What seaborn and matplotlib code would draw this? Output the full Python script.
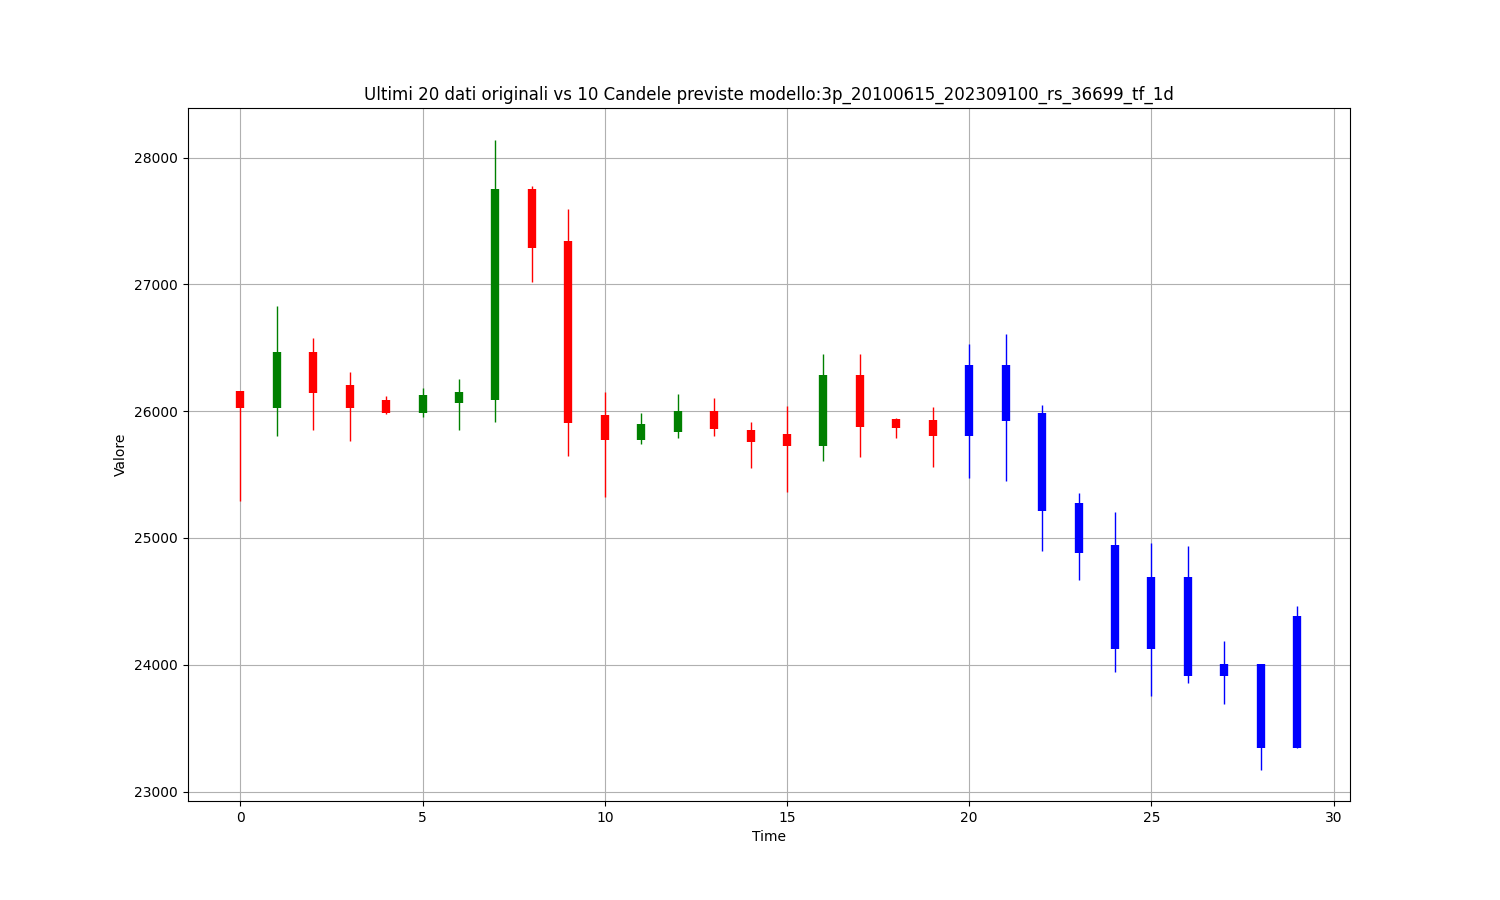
import numpy as np
import pandas as pd
import matplotlib
matplotlib.use("Agg")
import matplotlib.pyplot as plt
import seaborn as sns

# last 20 original candles
orig_open = [26159, 26026, 26463, 26206, 26087, 25987, 26066, 26090, 27754, 27342,
             25968, 25772, 25836, 26000, 25849, 25817, 25725, 26286, 25937, 25929]
orig_close = [26026, 26463, 26146, 26026, 25987, 26127, 26151, 27754, 27283, 25907,
              25772, 25897, 26000, 25860, 25757, 25725, 26286, 25876, 25868, 25804]
orig_high = [26159, 26828, 26580, 26312, 26122, 26185, 26257, 28142, 27775, 27596,
             26151, 25984, 26135, 26103, 25913, 26040, 26447, 26447, 25944, 26032]
orig_low = [25288, 25804, 25849, 25762, 25976, 25955, 25849, 25913, 27019, 25645,
            25320, 25741, 25788, 25804, 25550, 25360, 25606, 25637, 25788, 25558]

# 10 predicted candles
pred_open = [25806, 26362, 25984, 25276, 24945, 24121, 24695, 23908, 24008, 23341]
pred_close = [26362, 25924, 25215, 24884, 24121, 24695, 23908, 24008, 23341, 24386]
pred_high = [26528, 26606, 26045, 25354, 25205, 24960, 24937, 24189, 24008, 24464]
pred_low = [25475, 25451, 24900, 24672, 23939, 23750, 23853, 23687, 23174, 23341]

title = "Ultimi 20 dati originali vs 10 Candele previste modello:3p_20100615_202309100_rs_36699_tf_1d"

sns.set_theme(style="whitegrid", rc={
    "axes.edgecolor": "black",
    "axes.linewidth": 0.8,
    "grid.color": "#b0b0b0",
    "grid.linewidth": 0.8,
    "xtick.bottom": True,
    "ytick.left": True,
    "xtick.major.size": 3.5,
    "ytick.major.size": 3.5,
    "xtick.major.width": 0.8,
    "ytick.major.width": 0.8,
    "xtick.color": "black",
    "ytick.color": "black",
    "font.size": 10,
    "axes.titlesize": 12,
    "axes.labelsize": 10,
    "xtick.labelsize": 10,
    "ytick.labelsize": 10,
    "axes.labelcolor": "black",
    "text.color": "black",
})
plt.rcParams['font.family'] = ['DejaVu Sans']

orig = pd.DataFrame({"open": orig_open, "close": orig_close,
                     "high": orig_high, "low": orig_low})
orig["time"] = np.arange(len(orig))
orig["color"] = np.where(orig["close"] >= orig["open"], "green", "red")

pred = pd.DataFrame({"open": pred_open, "close": pred_close,
                     "high": pred_high, "low": pred_low})
pred["time"] = np.arange(len(orig), len(orig) + len(pred))
pred["color"] = "blue"

df = pd.concat([orig, pred], ignore_index=True)

fig, ax = plt.subplots(figsize=(15, 9), dpi=100)

# wicks
ax.vlines(df["time"], df["low"], df["high"], colors=df["color"], linewidth=1)
# bodies
ax.vlines(df["time"], df["open"], df["close"], colors=df["color"], linewidth=6)

ax.set_title(title)
ax.set_xlabel("Time")
ax.set_ylabel("Valore")
ax.grid(True)

fig.savefig("out.png", dpi=100)
